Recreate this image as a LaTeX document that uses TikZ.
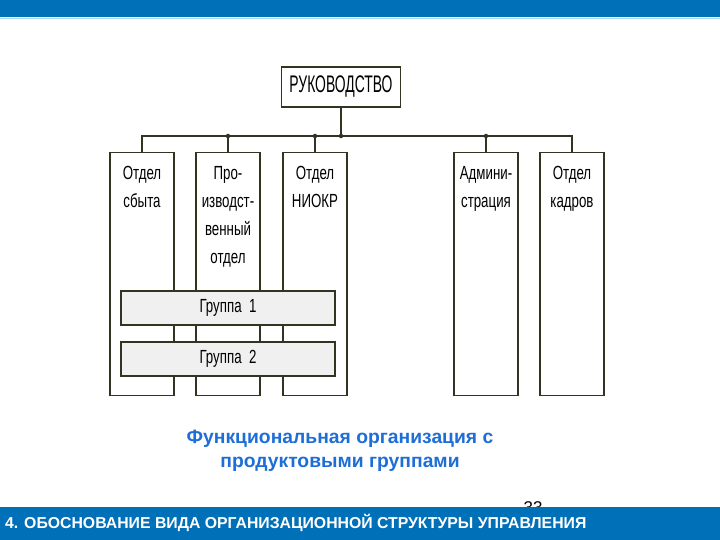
\documentclass[tikz,border=0pt]{standalone}
\usepackage{fontspec}
\setmainfont{Liberation Sans}
\newfontfamily\narrowfont[FakeStretch=0.7]{Liberation Sans}
\newfontfamily\headfont[FakeStretch=0.58]{Liberation Sans}
\definecolor{barblue}{RGB}{0,112,184}
\definecolor{barline}{RGB}{170,220,240}
\definecolor{linecol}{RGB}{51,51,34}
\definecolor{groupgray}{RGB}{240,240,240}
\definecolor{captionblue}{RGB}{30,110,215}
\begin{document}
\begin{tikzpicture}[
            x=1pt, y=-1pt,
            deptbox/.style={
                draw=linecol, line width=1.3pt, fill=white, inner sep=0pt,
                minimum width=64pt, minimum height=243pt
            },
            depttext/.style={
                anchor=north, align=center, yshift=-11pt,
                font=\narrowfont\fontsize{19}{28}\selectfont
            },
            groupbox/.style={
                draw=linecol, line width=1.3pt, fill=groupgray, inner sep=0pt,
                minimum width=214pt, minimum height=34pt,
                font=\narrowfont\fontsize{19}{20}\selectfont
            },
            junction/.style={
                circle, fill=linecol, inner sep=0pt, minimum size=4.5pt
            }
        ]
        \useasboundingbox (0,0) rectangle (720,540);
        \fill[white] (0,0) rectangle (720,540);

        % page number, half hidden by the bottom bar
        \node[font=\fontsize{17}{20}\selectfont] (page) at (533,508) {33};
        \fill[barblue] (0,0) rectangle (720,17.5);
        \draw[barline, line width=1pt] (0,18.5) -- (720,18.5);
        \fill[barblue] (0,507) rectangle (720,540);
        \node[anchor=west, inner sep=0pt, text=white, font=\bfseries\fontsize{15.8}{17}\selectfont] (title) at (5,523)
            {4. ОБОСНОВАНИЕ ВИДА ОРГАНИЗАЦИОННОЙ СТРУКТУРЫ УПРАВЛЕНИЯ};

        % nodes
        \node[draw=linecol, line width=1.3pt, minimum width=119pt, minimum height=40pt,
            font=\headfont\fontsize{24}{26}\selectfont] (head) at (341,87) {РУКОВОДСТВО};
        \node[deptbox, label={[depttext]north:Отдел\\сбыта}] (sales) at (142,274) {};
        \node[deptbox, label={[depttext]north:Про-\\изводст-\\венный\\отдел}] (prod) at (228,274) {};
        \node[deptbox, label={[depttext]north:Отдел\\НИОКР}] (rnd) at (315,274) {};
        \node[deptbox, label={[depttext]north:Админи-\\страция}] (admin) at (486,274) {};
        \node[deptbox, label={[depttext]north:Отдел\\кадров}] (staff) at (572,274) {};

        % connectors
        \coordinate (bus) at (341,136);
        \draw[linecol, line width=1.3pt] (head.south) -- (bus);
        \draw[linecol, line width=1.3pt] (sales.north) |- (bus) -| (staff.north);
        \foreach \d in {prod, rnd, admin}
            \draw[linecol, line width=1.3pt] (\d.north) -- (\d.north |- bus) node[junction] {};
        \node[junction] at (bus) {};

        % groups across the departments
        \node[groupbox] (group1) at (228,308) {Группа\ \ 1};
        \node[groupbox] (group2) at (228,359) {Группа\ \ 2};

        \node[align=center, text=captionblue, font=\bfseries\fontsize{19.3}{24}\selectfont] (caption) at (340,451)
            {Функциональная организация с\\продуктовыми группами};
\end{tikzpicture}
\end{document}
